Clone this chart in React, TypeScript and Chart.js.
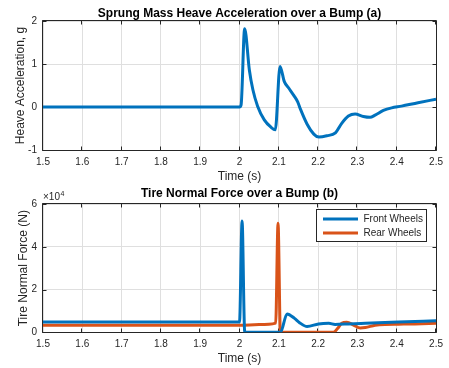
import React, { useEffect, useRef } from "react";
import { Chart, registerables } from "chart.js";

Chart.register(...registerables);

// ---------- data ----------
const accelTime = [
  1.5, 2.0, 2.004, 2.013, 2.025, 2.034, 2.046, 2.063, 2.08, 2.091, 2.103,
  2.114, 2.126, 2.138, 2.148, 2.155, 2.172, 2.189, 2.202, 2.222, 2.244, 2.26,
  2.277, 2.294, 2.315, 2.332, 2.345, 2.366, 2.387, 2.412, 2.454, 2.5,
];
const accelValue = [
  0, 0, 0.05, 1.82, 0.86, 0.4, 0.02, -0.3, -0.47, -0.53, 0.94,
  0.59, 0.43, 0.27, 0.12, -0.05, -0.4, -0.63, -0.7, -0.67, -0.6, -0.38,
  -0.21, -0.16, -0.22, -0.24, -0.19, -0.08, -0.02, 0.02, 0.1, 0.18,
];

const frontTime = [
  1.5, 2.0, 2.0065, 2.013, 2.015, 2.104, 2.121, 2.14, 2.152, 2.172, 2.201,
  2.227, 2.243, 2.277, 2.32, 2.404, 2.5,
];
const frontForce = [
  4800, 4800, 52000, 500, 0, 0, 8600, 6500, 4600, 2700, 3900,
  4200, 3700, 3900, 4200, 4800, 5400,
];

const rearTime = [
  1.5, 2.0, 2.05, 2.092, 2.098, 2.104, 2.239, 2.25, 2.26, 2.273, 2.29,
  2.307, 2.32, 2.345, 2.37, 2.404, 2.446, 2.5,
];
const rearForce = [
  3300, 3300, 3600, 4300, 51000, 0, 0, 1900, 4200, 4700, 3400,
  2000, 2200, 3300, 3700, 3800, 3900, 4200,
];

const seriesLabels = ["Front Wheels", "Rear Wheels"];
const titleA = "Sprung Mass Heave Acceleration over a Bump (a)";
const titleB = "Tire Normal Force over a Bump (b)";
const xLabel = "Time (s)";
const yLabelA = "Heave Acceleration, g";
const yLabelB = "Tire Normal Force (N)";
const forceExponent = 4;

// ---------- styles ----------
const FONT = "'Liberation Sans', Arial, Helvetica, sans-serif";
const AX = "#262626";
const GRID = "#dfdfdf";
const BLUE = "#0072BD";
const ORANGE = "#D95319";

const toPoints = (xs: number[], ys: number[]) => xs.map((x, i) => ({ x, y: ys[i] }));

const boxPlugin = {
  id: "matlabBox",
  beforeDatasetsDraw(chart: any) {
    const { ctx, chartArea: a, scales } = chart;
    const L = Math.round(a.left) - 0.5;
    const R = Math.round(a.right) + 0.5;
    const T = Math.round(a.top) - 0.5;
    const B = Math.round(a.bottom) + 0.5;
    ctx.save();
    ctx.strokeStyle = AX;
    ctx.lineWidth = 1;
    ctx.beginPath();
    ctx.rect(L, T, R - L, B - T);
    const tl = 4;
    scales.x.ticks.forEach((t: any) => {
      const px = Math.round(scales.x.getPixelForValue(t.value)) - 0.5;
      ctx.moveTo(px, B);
      ctx.lineTo(px, B - tl);
      ctx.moveTo(px, T);
      ctx.lineTo(px, T + tl);
    });
    scales.y.ticks.forEach((t: any) => {
      const py = Math.round(scales.y.getPixelForValue(t.value)) + 0.5;
      ctx.moveTo(L, py);
      ctx.lineTo(L + tl, py);
      ctx.moveTo(R, py);
      ctx.lineTo(R - tl, py);
    });
    ctx.stroke();
    ctx.restore();
  },
};

const exponentPlugin = {
  id: "exponent",
  afterDraw(chart: any) {
    const ex = chart.options.plugins.exponent;
    if (!ex || !ex.show) return;
    const { ctx, chartArea: a } = chart;
    ctx.save();
    ctx.fillStyle = AX;
    ctx.textBaseline = "middle";
    ctx.textAlign = "left";
    ctx.font = `10px ${FONT}`;
    const base = "\u00d710";
    ctx.fillText(base, a.left, a.top - 6.5);
    const w = ctx.measureText(base).width;
    ctx.font = `7px ${FONT}`;
    ctx.fillText(String(ex.power), a.left + w + 0.5, a.top - 10);
    ctx.restore();
  },
};

const legendPlugin = {
  id: "boxLegend",
  afterDraw(chart: any) {
    const lg = chart.options.plugins.boxLegend;
    if (!lg || !lg.show) return;
    const { ctx, chartArea: a } = chart;
    const w = 110;
    const h = 32;
    const x0 = Math.round(a.right - 10 - w) + 0.5;
    const y0 = Math.round(a.top + 5) + 0.5;
    ctx.save();
    ctx.fillStyle = "#ffffff";
    ctx.fillRect(x0, y0, w, h);
    ctx.strokeStyle = AX;
    ctx.lineWidth = 1;
    ctx.strokeRect(x0, y0, w, h);
    ctx.font = `10px ${FONT}`;
    ctx.textBaseline = "middle";
    ctx.textAlign = "left";
    chart.data.datasets.forEach((ds: any, i: number) => {
      const cy = y0 + 9.5 + i * 14;
      ctx.strokeStyle = ds.borderColor;
      ctx.lineWidth = 3;
      ctx.beginPath();
      ctx.moveTo(x0 + 6.5, cy);
      ctx.lineTo(x0 + 41.5, cy);
      ctx.stroke();
      ctx.fillStyle = AX;
      ctx.fillText(ds.label, x0 + 47, cy + 0.5);
    });
    ctx.restore();
  },
};

function makeOptions(cfg: {
  title: string;
  titlePad: { top: number; bottom: number };
  yLabel: string;
  yTitlePad: number;
  yMin: number;
  yMax: number;
  yStep: number;
  yFmt: (v: number) => string;
  xHeight: number;
  xTitleBottom: number;
  exponent?: number;
  legend?: boolean;
}): any {
  return {
    responsive: false,
    animation: false,
    layout: { padding: { left: 0, right: 11, top: 0, bottom: 0 } },
    elements: { point: { radius: 0 } },
    plugins: {
      legend: { display: false },
      tooltip: { enabled: false },
      title: {
        display: true,
        fullSize: false,
        text: cfg.title,
        color: "#000000",
        font: { family: FONT, size: 12, weight: "bold", lineHeight: 1.2 },
        padding: cfg.titlePad,
      },
      exponent: { show: cfg.exponent !== undefined, power: cfg.exponent },
      boxLegend: { show: !!cfg.legend },
    },
    scales: {
      x: {
        type: "linear",
        min: 1.5,
        max: 2.5,
        border: { display: false },
        grid: { color: GRID, drawTicks: false, lineWidth: 1 },
        ticks: {
          stepSize: 0.1,
          padding: 6,
          color: AX,
          maxRotation: 0,
          autoSkip: false,
          font: { family: FONT, size: 10 },
          callback: (v: number) => String(Math.round(v * 10) / 10),
        },
        title: {
          display: true,
          text: xLabel,
          color: AX,
          font: { family: FONT, size: 12, lineHeight: 1.2 },
          padding: { top: 0, bottom: cfg.xTitleBottom },
        },
        afterFit: (s: any) => {
          s.height = cfg.xHeight;
        },
      },
      y: {
        type: "linear",
        min: cfg.yMin,
        max: cfg.yMax,
        border: { display: false },
        grid: { color: GRID, drawTicks: false, lineWidth: 1 },
        ticks: {
          stepSize: cfg.yStep,
          padding: 6,
          color: AX,
          font: { family: FONT, size: 10 },
          callback: (v: number) => cfg.yFmt(v),
        },
        title: {
          display: true,
          text: cfg.yLabel,
          color: AX,
          font: { family: FONT, size: 12, lineHeight: 1.2 },
          padding: { top: cfg.yTitlePad, bottom: 0 },
        },
        afterFit: (s: any) => {
          s.width = 43;
        },
      },
    },
  };
}

export default function App() {
  const refA = useRef<HTMLCanvasElement>(null);
  const refB = useRef<HTMLCanvasElement>(null);

  useEffect(() => {
    const chartA = new Chart(refA.current as HTMLCanvasElement, {
      type: "line",
      data: {
        datasets: [
          {
            label: yLabelA,
            data: toPoints(accelTime, accelValue),
            borderColor: BLUE,
            borderWidth: 3,
            cubicInterpolationMode: "monotone",
            fill: false,
          },
        ],
      },
      options: makeOptions({
        title: titleA,
        titlePad: { top: 6, bottom: 0.6 },
        yLabel: yLabelA,
        yTitlePad: 13.3,
        yMin: -1,
        yMax: 2,
        yStep: 1,
        yFmt: (v) => String(v),
        xHeight: 34,
        xTitleBottom: 0.2,
      }),
      plugins: [boxPlugin],
    } as any);

    const chartB = new Chart(refB.current as HTMLCanvasElement, {
      type: "line",
      data: {
        datasets: [
          {
            label: seriesLabels[0],
            data: toPoints(frontTime, frontForce),
            borderColor: BLUE,
            borderWidth: 3,
            cubicInterpolationMode: "monotone",
            fill: false,
          },
          {
            label: seriesLabels[1],
            data: toPoints(rearTime, rearForce),
            borderColor: ORANGE,
            borderWidth: 3,
            cubicInterpolationMode: "monotone",
            fill: false,
          },
        ],
      },
      options: makeOptions({
        title: titleB,
        titlePad: { top: 2.8, bottom: 2.8 },
        yLabel: yLabelB,
        yTitlePad: 16.8,
        yMin: 0,
        yMax: 60000,
        yStep: 20000,
        yFmt: (v) => String(Math.round(v / Math.pow(10, forceExponent))),
        xHeight: 35.7,
        xTitleBottom: 1.8,
        exponent: forceExponent,
        legend: true,
      }),
      plugins: [boxPlugin, exponentPlugin, legendPlugin],
    } as any);

    return () => {
      chartA.destroy();
      chartB.destroy();
    };
  }, []);

  return (
    <div style={{ position: "absolute", left: 0, top: 0, width: 449, height: 368, background: "#ffffff" }}>
      <canvas ref={refA} width={449} height={184} style={{ display: "block" }} />
      <canvas ref={refB} width={449} height={184} style={{ display: "block" }} />
    </div>
  );
}
